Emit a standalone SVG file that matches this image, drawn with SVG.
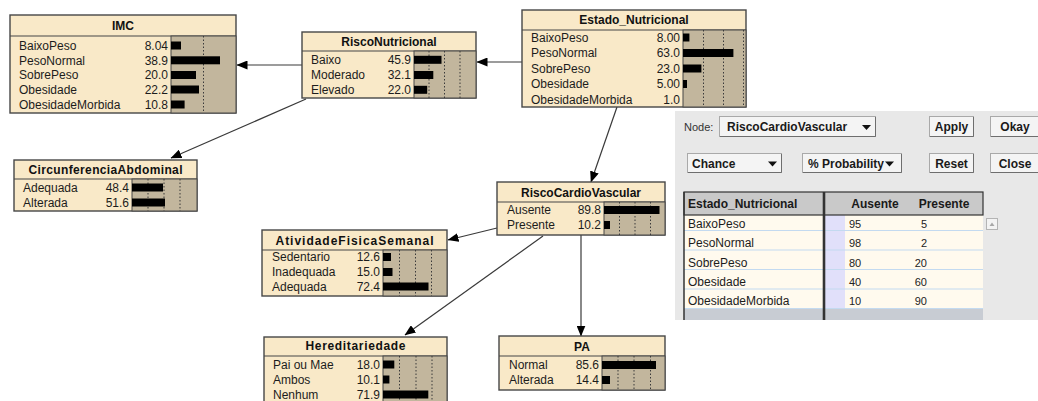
<svg xmlns="http://www.w3.org/2000/svg" width="1038" height="401" viewBox="0 0 1038 401">
  <style>
    .box { fill: #f9e9c8; stroke: #474747; stroke-width: 1.4; }
    .sep { stroke: #474747; stroke-width: 1.2; }
    .bararea { fill: #c2b69d; stroke: #474747; stroke-width: 1; }
    .grid { stroke: #3a3a3a; stroke-width: 1; stroke-dasharray: 1.5 2; }
    .bar { fill: #000; }
    .title { font-family: "Liberation Sans", Arial, sans-serif; font-size: 12px; font-weight: bold; fill: #111; text-anchor: middle; }
    .lbl { font-family: "Liberation Sans", Arial, sans-serif; font-size: 12px; fill: #1c1c1c; }
    .val { font-family: "Liberation Sans", Arial, sans-serif; font-size: 12px; fill: #1c1c1c; text-anchor: end; }
    .edge { fill: none; stroke: #3a3a3a; stroke-width: 1.2; marker-end: url(#arrow); }
    .ui { font-family: "Liberation Sans", Arial, sans-serif; font-size: 12px; font-weight: bold; fill: #1a1a1a; }
    .uin { font-family: "Liberation Sans", Arial, sans-serif; font-size: 11px; fill: #333; }
    .btn { fill: #f4f4f4; stroke: #a9a9a9; stroke-width: 1; }
    .btnsh { stroke: #6e6e6e; stroke-width: 1; fill: none; }
    .tri { fill: #111; }
    .cell { font-family: "Liberation Sans", Arial, sans-serif; font-size: 12px; fill: #1c1c1c; }
    .num { font-family: "Liberation Sans", Arial, sans-serif; font-size: 11px; fill: #222; }
    .rowsep { stroke: #c3daf0; stroke-width: 1; }
  </style>
  <defs>
    <marker id="arrow" markerWidth="11" markerHeight="9" refX="10.5" refY="4.5" orient="auto" markerUnits="userSpaceOnUse">
      <path d="M0,0 L11,4.5 L0,9 z" fill="#000"/>
    </marker>
  </defs>

  <rect x="0" y="0" width="1038" height="401" fill="#ffffff"/>

  <!-- connectors -->
  <g id="connectors">
    <path class="edge" d="M522,62 L477,62"/>
    <path class="edge" d="M302,65 L237,65"/>
    <path class="edge" d="M306,99 L171,158"/>
    <path class="edge" d="M617,107 L591,182"/>
    <path class="edge" d="M497,228 L448,240"/>
    <path class="edge" d="M543,236 L405,335"/>
    <path class="edge" d="M581,235 L581,336"/>
  </g>

  <!-- IMC -->
  <g id="node-IMC">
    <rect class="box" x="10" y="15" width="226" height="98"/>
    <line class="sep" x1="10" y1="36" x2="236" y2="36"/>
    <rect class="bararea" x="171" y="36" width="65" height="77"/>
    <line class="grid" x1="203.5" y1="36" x2="203.5" y2="113"/>
    <text class="title" x="123" y="30">IMC</text>
    <text class="lbl" x="19" y="49.8">BaixoPeso</text>
    <text class="lbl" x="19" y="64.6">PesoNormal</text>
    <text class="lbl" x="19" y="79.3">SobrePeso</text>
    <text class="lbl" x="19" y="93.8">Obesidade</text>
    <text class="lbl" x="19" y="108.8">ObesidadeMorbida</text>
    <text class="val" x="168" y="49.8">8.04</text>
    <text class="val" x="168" y="64.6">38.9</text>
    <text class="val" x="168" y="79.3">20.0</text>
    <text class="val" x="168" y="93.8">22.2</text>
    <text class="val" x="168" y="108.8">10.8</text>
    <rect class="bar" x="171" y="41.5" width="10" height="8"/>
    <rect class="bar" x="171" y="56.3" width="49" height="8"/>
    <rect class="bar" x="171" y="71" width="25" height="8"/>
    <rect class="bar" x="171" y="85.5" width="28" height="8"/>
    <rect class="bar" x="171" y="100.5" width="13.6" height="8"/>
  </g>

  <!-- RiscoNutricional -->
  <g id="node-RiscoNutricional">
    <rect class="box" x="302" y="32" width="174" height="66"/>
    <line class="sep" x1="302" y1="51" x2="476" y2="51"/>
    <rect class="bararea" x="414" y="51" width="62" height="47"/>
    <line class="grid" x1="429" y1="51" x2="429" y2="98"/>
    <line class="grid" x1="444.5" y1="51" x2="444.5" y2="98"/>
    <line class="grid" x1="460" y1="51" x2="460" y2="98"/>
    <text class="title" x="389" y="45.5">RiscoNutricional</text>
    <text class="lbl" x="311" y="64">Baixo</text>
    <text class="lbl" x="311" y="79.3">Moderado</text>
    <text class="lbl" x="311" y="94">Elevado</text>
    <text class="val" x="411" y="64">45.9</text>
    <text class="val" x="411" y="79.3">32.1</text>
    <text class="val" x="411" y="94">22.0</text>
    <rect class="bar" x="414" y="55.8" width="27.5" height="8"/>
    <rect class="bar" x="414" y="71" width="19.3" height="8"/>
    <rect class="bar" x="414" y="85.8" width="13.2" height="8"/>
  </g>

  <!-- Estado_Nutricional -->
  <g id="node-Estado_Nutricional">
    <rect class="box" x="522" y="10" width="224" height="97"/>
    <line class="sep" x1="522" y1="30" x2="746" y2="30"/>
    <rect class="bararea" x="683" y="30" width="63" height="77"/>
    <line class="grid" x1="703.5" y1="30" x2="703.5" y2="107"/>
    <line class="grid" x1="723.5" y1="30" x2="723.5" y2="107"/>
    <line class="grid" x1="743.5" y1="30" x2="743.5" y2="107"/>
    <text class="title" x="634" y="24.3">Estado_Nutricional</text>
    <text class="lbl" x="531" y="41.8">BaixoPeso</text>
    <text class="lbl" x="531" y="57.3">PesoNormal</text>
    <text class="lbl" x="531" y="72.8">SobrePeso</text>
    <text class="lbl" x="531" y="88.3">Obesidade</text>
    <text class="lbl" x="531" y="103.8">ObesidadeMorbida</text>
    <text class="val" x="680" y="41.8">8.00</text>
    <text class="val" x="680" y="57.3">63.0</text>
    <text class="val" x="680" y="72.8">23.0</text>
    <text class="val" x="680" y="88.3">5.00</text>
    <text class="val" x="680" y="103.8">1.0</text>
    <rect class="bar" x="683" y="33.5" width="6.4" height="8"/>
    <rect class="bar" x="683" y="49" width="50.4" height="8"/>
    <rect class="bar" x="683" y="64.5" width="18.4" height="8"/>
    <rect class="bar" x="683" y="80" width="4" height="8"/>
  </g>

  <!-- CircunferenciaAbdominal -->
  <g id="node-CircunferenciaAbdominal">
    <rect class="box" x="14" y="160" width="183" height="51"/>
    <line class="sep" x1="14" y1="179" x2="197" y2="179"/>
    <rect class="bararea" x="132" y="179" width="65" height="32"/>
    <line class="grid" x1="148" y1="179" x2="148" y2="211"/>
    <line class="grid" x1="164" y1="179" x2="164" y2="211"/>
    <line class="grid" x1="180" y1="179" x2="180" y2="211"/>
    <text class="title" x="105.5" y="173.5" textLength="154" lengthAdjust="spacing">CircunferenciaAbdominal</text>
    <text class="lbl" x="23" y="191.8">Adequada</text>
    <text class="lbl" x="23" y="206.8">Alterada</text>
    <text class="val" x="129" y="191.8">48.4</text>
    <text class="val" x="129" y="206.8">51.6</text>
    <rect class="bar" x="132" y="183.5" width="31" height="8"/>
    <rect class="bar" x="132" y="198.5" width="33" height="8"/>
  </g>

  <!-- RiscoCardioVascular -->
  <g id="node-RiscoCardioVascular">
    <rect class="box" x="497" y="182" width="168" height="53"/>
    <line class="sep" x1="497" y1="202" x2="665" y2="202"/>
    <rect class="bararea" x="604" y="202" width="61" height="33"/>
    <line class="grid" x1="619.5" y1="202" x2="619.5" y2="235"/>
    <line class="grid" x1="635" y1="202" x2="635" y2="235"/>
    <line class="grid" x1="650.5" y1="202" x2="650.5" y2="235"/>
    <text class="title" x="581" y="196.5">RiscoCardioVascular</text>
    <text class="lbl" x="507" y="214.3">Ausente</text>
    <text class="lbl" x="507" y="229.3">Presente</text>
    <text class="val" x="601" y="214.3">89.8</text>
    <text class="val" x="601" y="229.3">10.2</text>
    <rect class="bar" x="604" y="206" width="55.5" height="8"/>
    <rect class="bar" x="604" y="221" width="6" height="8"/>
  </g>

  <!-- AtividadeFisicaSemanal -->
  <g id="node-AtividadeFisicaSemanal">
    <rect class="box" x="262" y="230" width="185" height="66"/>
    <line class="sep" x1="262" y1="250" x2="447" y2="250"/>
    <rect class="bararea" x="383" y="250" width="64" height="46"/>
    <line class="grid" x1="399.5" y1="250" x2="399.5" y2="296"/>
    <line class="grid" x1="415.5" y1="250" x2="415.5" y2="296"/>
    <line class="grid" x1="431.5" y1="250" x2="431.5" y2="296"/>
    <text class="title" x="354.5" y="244.5" textLength="158" lengthAdjust="spacing">AtividadeFisicaSemanal</text>
    <text class="lbl" x="272" y="261.3">Sedentario</text>
    <text class="lbl" x="272" y="276.3">Inadequada</text>
    <text class="lbl" x="272" y="290.8">Adequada</text>
    <text class="val" x="380" y="261.3">12.6</text>
    <text class="val" x="380" y="276.3">15.0</text>
    <text class="val" x="380" y="290.8">72.4</text>
    <rect class="bar" x="383" y="253" width="8" height="8"/>
    <rect class="bar" x="383" y="268" width="9.5" height="8"/>
    <rect class="bar" x="383" y="282.5" width="45.5" height="8"/>
  </g>

  <!-- Hereditariedade -->
  <g id="node-Hereditariedade">
    <rect class="box" x="264" y="337" width="183" height="70"/>
    <line class="sep" x1="264" y1="356" x2="447" y2="356"/>
    <rect class="bararea" x="383" y="356" width="64" height="51"/>
    <line class="grid" x1="399.5" y1="356" x2="399.5" y2="407"/>
    <line class="grid" x1="416" y1="356" x2="416" y2="407"/>
    <line class="grid" x1="432" y1="356" x2="432" y2="407"/>
    <text class="title" x="355.5" y="350" textLength="100" lengthAdjust="spacing">Hereditariedade</text>
    <text class="lbl" x="273" y="368.8">Pai ou Mae</text>
    <text class="lbl" x="273" y="383.8">Ambos</text>
    <text class="lbl" x="273" y="398.8">Nenhum</text>
    <text class="val" x="380" y="368.8">18.0</text>
    <text class="val" x="380" y="383.8">10.1</text>
    <text class="val" x="380" y="398.8">71.9</text>
    <rect class="bar" x="383" y="360.5" width="11.3" height="8"/>
    <rect class="bar" x="383" y="375.5" width="6.4" height="8"/>
    <rect class="bar" x="383" y="390.5" width="45.3" height="8"/>
  </g>

  <!-- PA -->
  <g id="node-PA">
    <rect class="box" x="499" y="336" width="166" height="54"/>
    <line class="sep" x1="499" y1="356" x2="665" y2="356"/>
    <rect class="bararea" x="602" y="356" width="63" height="34"/>
    <line class="grid" x1="618" y1="356" x2="618" y2="390"/>
    <line class="grid" x1="634" y1="356" x2="634" y2="390"/>
    <line class="grid" x1="650.5" y1="356" x2="650.5" y2="390"/>
    <text class="title" x="582" y="350.5">PA</text>
    <text class="lbl" x="509" y="369.3">Normal</text>
    <text class="lbl" x="509" y="384.3">Alterada</text>
    <text class="val" x="599" y="369.3">85.6</text>
    <text class="val" x="599" y="384.3">14.4</text>
    <rect class="bar" x="602" y="361" width="54" height="8"/>
    <rect class="bar" x="602" y="376" width="8" height="8"/>
  </g>

  <!-- probability table editor -->
  <g id="table-editor">
    <rect x="675" y="111" width="363" height="209" fill="#e8e8e8"/>

    <!-- first row of controls -->
    <text class="uin" x="684" y="131">Node:</text>
    <rect class="btn" x="719.5" y="116.5" width="156" height="20"/>
    <polyline class="btnsh" points="720,136.5 875.5,136.5 875.5,117"/>
    <text class="ui" x="727" y="131" font-size="11.5">RiscoCardioVascular</text>
    <polygon class="tri" points="862,125 871,125 866.5,130"/>

    <rect class="btn" x="929.5" y="116.5" width="44" height="20"/>
    <polyline class="btnsh" points="930,136.5 973.5,136.5 973.5,117"/>
    <text class="ui" x="951.5" y="131" text-anchor="middle">Apply</text>

    <rect class="btn" x="990.5" y="116.5" width="52" height="20"/>
    <line class="btnsh" x1="991" y1="136.5" x2="1038" y2="136.5"/>
    <text class="ui" x="1015" y="131" text-anchor="middle">Okay</text>

    <!-- second row of controls -->
    <rect class="btn" x="687.5" y="153.5" width="94" height="19"/>
    <polyline class="btnsh" points="688,172.5 781.5,172.5 781.5,154"/>
    <text class="ui" x="692" y="167.5" font-size="11.5">Chance</text>
    <polygon class="tri" points="768,161.5 777,161.5 772.5,166.5"/>

    <rect class="btn" x="802.5" y="153.5" width="99" height="19"/>
    <polyline class="btnsh" points="803,172.5 901.5,172.5 901.5,154"/>
    <text class="ui" x="808" y="167.5" font-size="11">% Probability</text>
    <polygon class="tri" points="885,161.5 894,161.5 889.5,166.5"/>

    <rect class="btn" x="929.5" y="153.5" width="44" height="19"/>
    <polyline class="btnsh" points="930,172.5 973.5,172.5 973.5,154"/>
    <text class="ui" x="951.5" y="167.5" text-anchor="middle">Reset</text>

    <rect class="btn" x="990.5" y="153.5" width="52" height="19"/>
    <line class="btnsh" x1="991" y1="172.5" x2="1038" y2="172.5"/>
    <text class="ui" x="1015" y="167.5" text-anchor="middle">Close</text>

    <!-- table body -->
    <rect x="684" y="215" width="140" height="94" fill="#fffaee"/>
    <rect x="824" y="215" width="21" height="94" fill="#e1e0fa"/>
    <rect x="845" y="215" width="138" height="94" fill="#fffaee"/>
    <rect x="684" y="309" width="299" height="11" fill="#c8ccd3"/>
    <line class="rowsep" x1="684" y1="230.5" x2="983" y2="230.5"/>
    <line class="rowsep" x1="684" y1="250" x2="983" y2="250"/>
    <line class="rowsep" x1="684" y1="269.5" x2="983" y2="269.5"/>
    <line class="rowsep" x1="684" y1="289" x2="983" y2="289"/>
    <line class="rowsep" x1="684" y1="308.5" x2="983" y2="308.5"/>

    <!-- header -->
    <rect x="684" y="192" width="299" height="23" fill="#c9c9c9" stroke="#333" stroke-width="1.2"/>
    <line x1="684" y1="192" x2="684" y2="320" stroke="#333" stroke-width="1.5"/>
    <line x1="824" y1="192" x2="824" y2="320" stroke="#333" stroke-width="2.6"/>
    <text class="ui" x="688" y="207.5">Estado_Nutricional</text>
    <text class="ui" x="875" y="207.5" text-anchor="middle">Ausente</text>
    <text class="ui" x="944" y="207.5" text-anchor="middle">Presente</text>

    <!-- rows -->
    <text class="cell" x="688" y="227.5">BaixoPeso</text>
    <text class="cell" x="688" y="247">PesoNormal</text>
    <text class="cell" x="688" y="266.5">SobrePeso</text>
    <text class="cell" x="688" y="286">Obesidade</text>
    <text class="cell" x="688" y="305">ObesidadeMorbida</text>

    <text class="num" x="849" y="227.5">95</text>
    <text class="num" x="849" y="247">98</text>
    <text class="num" x="849" y="266.5">80</text>
    <text class="num" x="849" y="286">40</text>
    <text class="num" x="849" y="305">10</text>

    <text class="num" x="927" y="227.5" text-anchor="end">5</text>
    <text class="num" x="927" y="247" text-anchor="end">2</text>
    <text class="num" x="927" y="266.5" text-anchor="end">20</text>
    <text class="num" x="927" y="286" text-anchor="end">60</text>
    <text class="num" x="927" y="305" text-anchor="end">90</text>

    <!-- scroll arrow -->
    <rect x="986.5" y="218.5" width="11" height="11" fill="#f3f3f3" stroke="#b4b4b4" stroke-width="1"/>
    <polygon points="989.5,226 994.5,226 992,222.5" fill="#a8a8a8"/>
  </g>
</svg>
